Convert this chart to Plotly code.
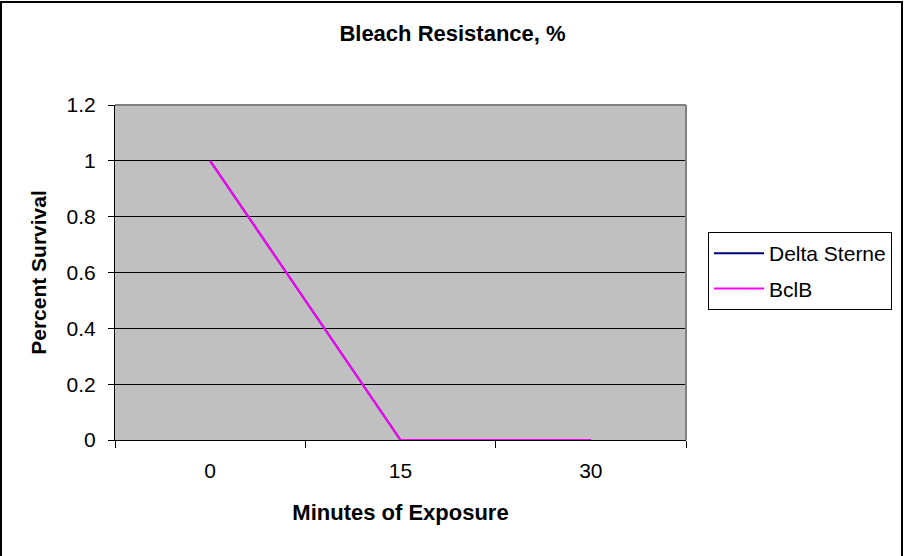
import plotly.graph_objects as go

minutes = ["0", "15", "30"]
delta_sterne = [1, 0, 0]
bclb = [1, 0, 0]
y_ticks = [0, 0.2, 0.4, 0.6, 0.8, 1, 1.2]
y_tick_text = ["0", "0.2", "0.4", "0.6", "0.8", "1", "1.2"]

FONT = "Liberation Sans, Arial, sans-serif"

fig = go.Figure()
fig.add_trace(go.Scatter(x=minutes, y=delta_sterne, mode="lines", name="Delta Sterne",
                         line=dict(color="#000080", width=2), legendgroup="a"))
fig.add_trace(go.Scatter(x=minutes, y=bclb, mode="lines", name="BclB",
                         line=dict(color="#FF00FF", width=2), legendgroup="b"))

W, H = 905, 556
ml, mr, mt, mb = 115, 219, 105, 116
pw, ph = W - ml - mr, H - mt - mb

def px2x(px):
    return (px - ml) / pw

def py2y(py):
    return (H - mb - py) / ph

fig.update_layout(
    width=W, height=H,
    margin=dict(l=ml, r=mr, t=mt, b=mb),
    paper_bgcolor="white",
    plot_bgcolor="#C0C0C0",
    font=dict(family=FONT, color="black", size=21),
    title=dict(text="<b>Bleach Resistance, %</b>", x=0.5, xref="container", xanchor="center",
               y=1 - 33 / H, yref="container", yanchor="middle",
               font=dict(family=FONT, size=22, color="black")),
    showlegend=True,
    legend=dict(x=px2x(708), y=py2y(232), xanchor="left", yanchor="top",
                bgcolor="white", bordercolor="black", borderwidth=1,
                font=dict(family=FONT, size=21, color="black"),
                tracegroupgap=5, itemwidth=50),
    xaxis=dict(type="category", range=[-0.5, 2.5], tickson="boundaries",
               ticks="outside", ticklen=7, tickcolor="black", tickwidth=1,
               showline=True, linecolor="black", linewidth=1,
               showgrid=False, zeroline=False, ticklabelstandoff=12,
               tickfont=dict(family=FONT, size=21, color="black"),
               title=dict(text="<b>Minutes of Exposure</b>", standoff=23,
                          font=dict(family=FONT, size=22, color="black"))),
    yaxis=dict(range=[0, 1.2], tickvals=y_ticks, ticktext=y_tick_text,
               ticks="outside", ticklen=6, tickcolor="black", tickwidth=1,
               showline=True, linecolor="black", linewidth=1,
               showgrid=True, gridcolor="black", gridwidth=1, zeroline=False,
               ticklabelstandoff=8,
               tickfont=dict(family=FONT, size=21, color="black"),
               title=dict(text="<b>Percent Survival</b>", standoff=14,
                          font=dict(family=FONT, size=21, color="black"))),
    shapes=[
        dict(type="line", xref="paper", yref="paper", x0=0, x1=1, y0=1, y1=1,
             line=dict(color="#808080", width=2)),
        dict(type="line", xref="paper", yref="paper", x0=1, x1=1, y0=0, y1=1,
             line=dict(color="#808080", width=2)),
        dict(type="rect", xref="paper", yref="paper",
             x0=px2x(1), x1=px2x(902), y0=py2y(560), y1=py2y(2),
             line=dict(color="black", width=2), fillcolor="rgba(0,0,0,0)"),
    ],
)

fig.write_html("out.html")
